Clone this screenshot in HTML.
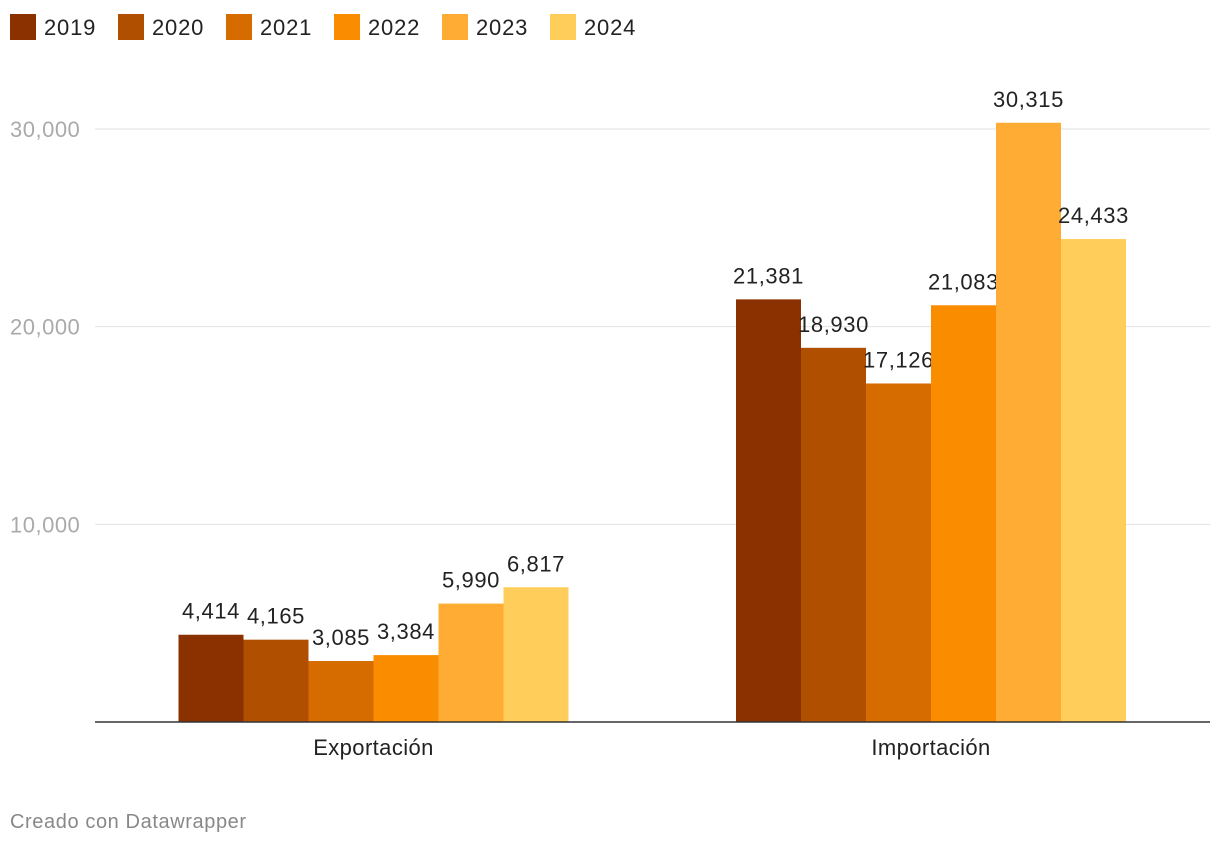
<!DOCTYPE html>
<html><head><meta charset="utf-8"><style>
body{margin:0;background:#fff;font-family:"Liberation Sans",Roboto,sans-serif;}
svg text{font-family:"Liberation Sans",sans-serif;}
</style></head><body>
<svg id="chart" width="1220" height="844">
<g id="legend"></g>
<g id="grid"></g>
<g id="bars"></g>
<text x="10" y="828" font-size="20" letter-spacing="0.6" fill="#888">Creado con Datawrapper</text>
</svg>
<script>
const categories=["Exportación","Importación"];
const years=["2019","2020","2021","2022","2023","2024"];
const colors=["#8b3100","#b04f00","#d66c00","#fa8c00","#feac33","#ffce5a"];
const values2019=[4414,21381];
const values2020=[4165,18930];
const values2021=[3085,17126];
const values2022=[3384,21083];
const values2023=[5990,30315];
const values2024=[6817,24433];
const series=[values2019,values2020,values2021,values2022,values2023,values2024];
const ticks=[10000,20000,30000];
const NS="http://www.w3.org/2000/svg";
function mk(t,a,p){const e=document.createElementNS(NS,t);for(const k in a)e.setAttribute(k,a[k]);p.appendChild(e);return e;}
const y0=722,perUnit=(722-129)/30000;
const y=v=>y0-v*perUnit;
const groupCenters=[373.5,931],bw=65;
const fmt=v=>v.toLocaleString('en-US');
const lg=document.getElementById('legend');
years.forEach((yr,i)=>{
 const x=10+i*108;
 const r=mk('rect',{x:x,y:14,width:26,height:26,fill:colors[i]},lg);
 
 
 const t=mk('text',{x:x+34,y:35,'font-size':22,'letter-spacing':0.8,fill:'#222'},lg);t.textContent=yr;
 
 
});
const g=document.getElementById('grid');
ticks.forEach(v=>{
 const l=mk('line',{x1:95,x2:1210,y1:y(v),y2:y(v),stroke:'#e2e2e2','stroke-width':1},g);
 
 
 const t=mk('text',{x:10,y:y(v)+8,'font-size':22,'letter-spacing':0.5,fill:'#aaa'},g);t.textContent=fmt(v);
 
 
});
const b=document.getElementById('bars');
categories.forEach((c,ci)=>{
 series.forEach((s,si)=>{
  const x=groupCenters[ci]-3*bw+si*bw;
  const r=mk('rect',{x:x,y:y(s[ci]),width:bw,height:s[ci]*perUnit,fill:colors[si]},b);
  
  
  const t=mk('text',{x:x+bw/2,y:y(s[ci])-16,'font-size':22,'letter-spacing':0.6,fill:'#222','text-anchor':'middle'},b);
  t.textContent=fmt(s[ci]);
  
  
 });
 const t=mk('text',{x:groupCenters[ci],y:755,'font-size':22,'letter-spacing':0.4,fill:'#222','text-anchor':'middle'},b);
 t.textContent=c;
 
 
});
const ax=mk('line',{x1:95,x2:1210,y1:y0,y2:y0,stroke:'#333','stroke-width':1.5},b);


</script>
</body></html>
